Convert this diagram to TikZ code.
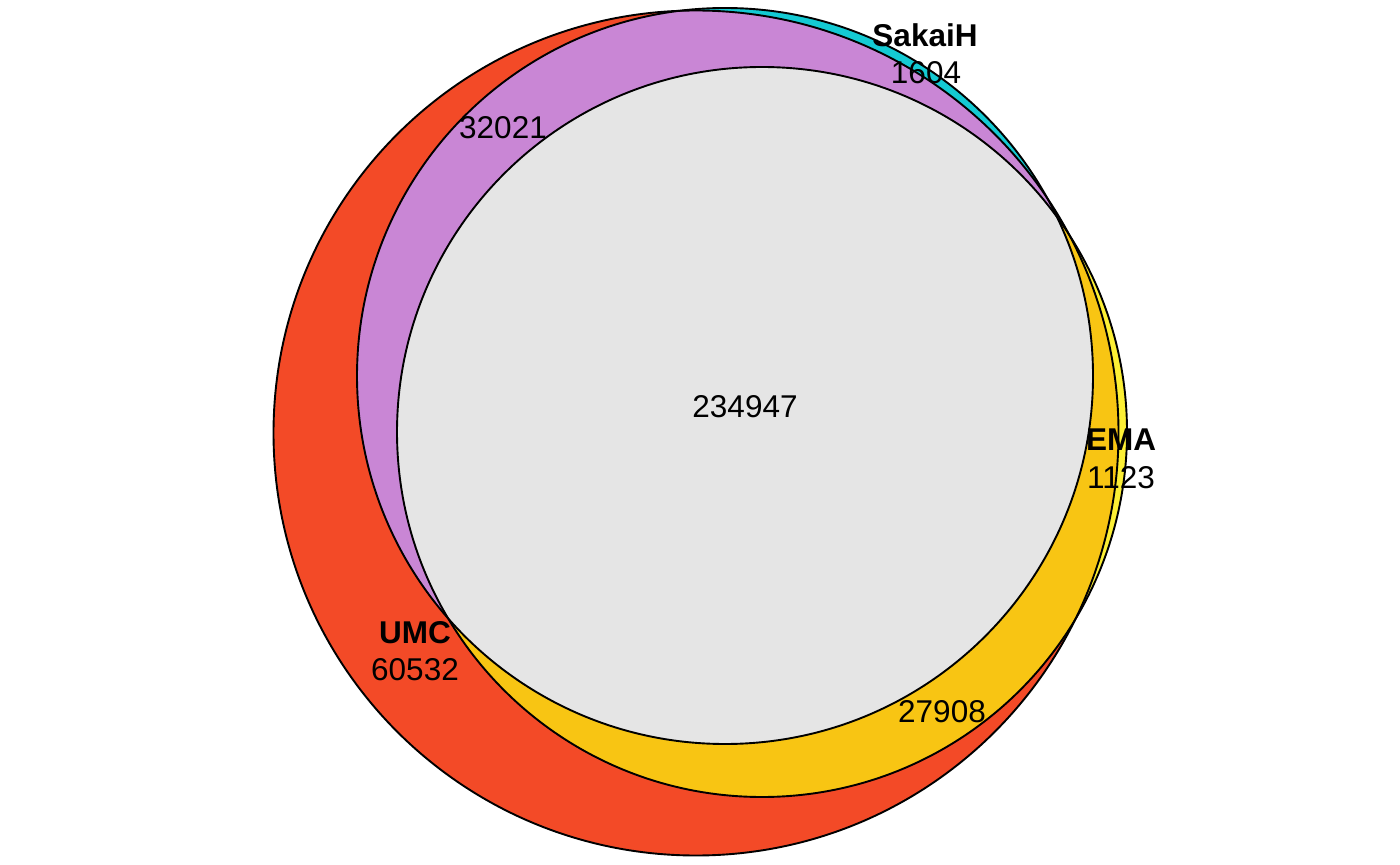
\documentclass[tikz,border=0pt]{standalone}
\usepackage{fontspec}
\setmainfont{Liberation Sans}
\definecolor{umc_red}{HTML}{F34A27}
\definecolor{sakai_cyan}{HTML}{14CAD3}
\definecolor{ema_yellow}{HTML}{FCEF35}
\definecolor{umc_sakai_purple}{HTML}{C986D5}
\definecolor{umc_ema_orange}{HTML}{F8C513}
\definecolor{all_gray}{HTML}{E5E5E5}

\begin{document}
\begin{tikzpicture}[
    x=0.5pt, y=-0.5pt,
    setlabel/.style={font=\fontsize{15.75}{18}\selectfont\bfseries, inner sep=0pt},
    countlabel/.style={font=\fontsize{15.75}{18}\selectfont, inner sep=0pt},
    setborder/.style={draw=black, line width=0.95pt}
]
\useasboundingbox (0,0) rectangle (1400,865);

% Kreismittelpunkte (Pixelkoordinaten)
\coordinate (U) at (696,433);   % UMC
\coordinate (S) at (725,376);   % SakaiH
\coordinate (E) at (762,432);   % EMA

% Flaechen ausserhalb von UMC
\fill[sakai_cyan] (S) circle[radius=184pt];
\fill[ema_yellow] (E) circle[radius=182.5pt];
\fill[umc_red]    (U) circle[radius=211.25pt];

% Flaechen innerhalb von UMC
\begin{scope}
    \clip (U) circle[radius=211.25pt];
    \fill[umc_ema_orange]   (E) circle[radius=182.5pt];
    \fill[umc_sakai_purple] (S) circle[radius=184pt];
    \clip (S) circle[radius=184pt];
    \fill[all_gray] (E) circle[radius=182.5pt];
\end{scope}

% Umrisse
\draw[setborder] (U) circle[radius=211.25pt];
\draw[setborder] (S) circle[radius=184pt];
\draw[setborder] (E) circle[radius=182.5pt];

% Beschriftungen
\node[setlabel]   (lbl_sakai) at (925,35)  {SakaiH};
\node[countlabel] (n_sakai)   at (926,73)  {1604};
\node[setlabel]   (lbl_ema)   at (1121,440) {EMA};
\node[countlabel] (n_ema)     at (1121,478) {1123};
\node[setlabel]   (lbl_umc)   at (415,633) {UMC};
\node[countlabel] (n_umc)     at (415,670) {60532};
\node[countlabel] (n_all)     at (745,407) {234947};
\node[countlabel] (n_us)      at (503,128) {32021};
\node[countlabel] (n_ue)      at (942,712) {27908};

\end{tikzpicture}
\end{document}
